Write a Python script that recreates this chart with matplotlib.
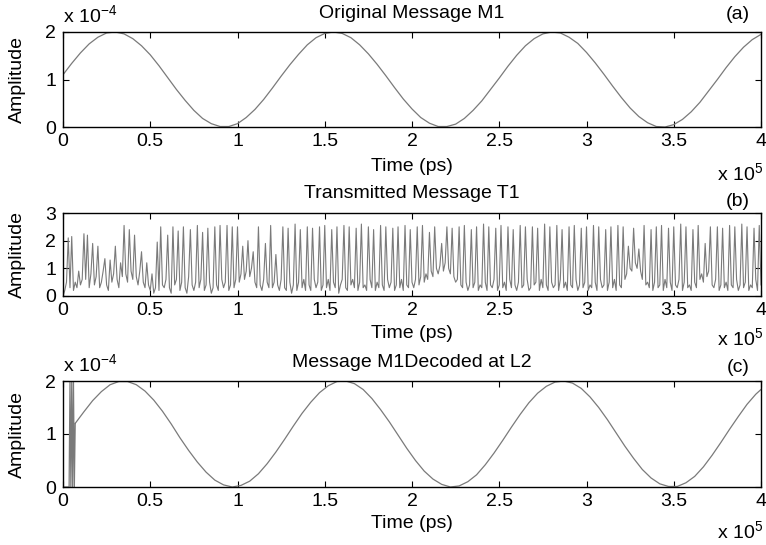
import numpy as np
import matplotlib
matplotlib.use("Agg")
import matplotlib.pyplot as plt

plt.rcParams['font.family'] = ['Liberation Sans', 'DejaVu Sans']
plt.rcParams['mathtext.fontset'] = 'custom'
plt.rcParams['mathtext.rm'] = 'Liberation Sans'
plt.rcParams['mathtext.default'] = 'regular'

# ---------------- data (time in units of 1e5 ps) ----------------
# (a) original message M1, amplitude in units of 1e-4, sampled every 0.05e5 ps
m1_time_step = 0.05
m1_amp = [1.10, 1.34, 1.56, 1.75, 1.89, 1.98, 2.00, 1.96, 1.86, 1.71,
          1.52, 1.29, 1.04, 0.79, 0.56, 0.35, 0.18, 0.07, 0.01, 0.01,
          0.07, 0.20, 0.37, 0.58, 0.82, 1.07, 1.31, 1.53, 1.73, 1.88,
          1.97, 2.00, 1.97, 1.88, 1.73, 1.54, 1.32, 1.08, 0.83, 0.59,
          0.38, 0.20, 0.08, 0.01, 0.01, 0.06, 0.18, 0.35, 0.55, 0.79,
          1.03, 1.28, 1.51, 1.71, 1.86, 1.96, 2.00, 1.98, 1.89, 1.76,
          1.57, 1.35, 1.11, 0.86, 0.62, 0.40, 0.22, 0.09, 0.01, 0.00,
          0.05, 0.16, 0.32, 0.52, 0.76, 1.00, 1.25, 1.48, 1.68, 1.84,
          1.95]

# (b) transmitted message T1, sampled every 0.01e5 ps
t1_time_step = 0.01
t1_amp = [
    0.0, 0.2, 0.5, 2.1, 0.3, 2.15, 0.2, 0.5, 0.3, 0.9, 0.4, 0.6, 2.25, 0.6, 2.2, 0.3, 0.8, 1.9, 0.4, 0.7,
    1.8, 0.3, 0.5, 0.9, 1.35, 0.4, 0.2, 1.3, 0.5, 0.8, 1.8, 0.6, 0.3, 1.2, 0.7, 2.55, 0.8, 0.5, 2.4, 0.9,
    0.6, 2.2, 0.7, 0.4, 0.9, 1.6, 0.5, 0.3, 1.2, 0.4, 0.2, 0.8, 0.1, 0.3, 1.95, 0.2, 2.5, 0.4, 0.3, 0.6,
    2.2, 0.3, 0.1, 2.5, 0.4, 0.6, 2.35, 0.2, 0.5, 2.5, 0.3, 0.1, 0.7, 2.4, 0.4, 0.2, 0.5, 2.55, 0.3, 0.6,
    2.3, 0.2, 0.4, 2.45, 0.5, 0.1, 0.3, 2.5, 0.4, 0.2, 2.55, 0.6, 0.3, 0.5, 2.55, 0.2, 0.4, 2.5, 0.3, 0.6,
    2.5, 0.5, 0.8, 1.8, 0.6, 0.9, 2.0, 0.7, 1.0, 1.6, 0.5, 0.3, 2.5, 0.4, 0.2, 0.6, 1.9, 0.5, 0.3, 2.55,
    0.3, 0.5, 1.5, 0.4, 0.2, 0.6, 2.5, 0.3, 0.2, 2.45, 0.5, 0.1, 0.4, 2.6, 0.2, 0.5, 2.4, 0.3, 0.6, 0.2,
    2.5, 0.4, 0.2, 2.45, 0.6, 0.3, 0.5, 2.5, 0.2, 0.4, 2.55, 0.3, 0.6, 0.2, 2.4, 0.5, 0.3, 2.5, 0.1, 0.4,
    0.6, 2.55, 0.3, 0.2, 2.5, 0.4, 0.6, 0.3, 2.45, 0.2, 0.5, 2.6, 0.3, 0.4, 0.2, 2.5, 0.6, 0.3, 2.4, 0.2,
    0.5, 0.3, 2.55, 0.4, 0.2, 2.5, 0.6, 0.3, 0.5, 2.45, 0.2, 0.4, 2.5, 0.3, 0.6, 0.2, 2.55, 0.4, 0.3, 2.4,
    0.5, 0.3, 0.6, 2.5, 0.4, 0.7, 2.55, 0.5, 0.8, 0.6, 2.3, 0.9, 0.7, 2.5, 1.0, 0.8, 1.1, 1.9, 0.9, 1.2,
    2.5, 1.0, 0.8, 2.45, 0.7, 0.5, 0.6, 2.5, 0.4, 0.3, 2.55, 0.5, 0.2, 0.4, 2.4, 0.3, 0.5, 2.5, 0.2, 0.4,
    0.3, 2.6, 0.5, 0.2, 2.5, 0.4, 0.3, 0.6, 2.45, 0.2, 0.4, 2.55, 0.3, 0.5, 0.2, 2.5, 0.6, 0.3, 2.4, 0.4,
    0.2, 0.5, 2.55, 0.3, 0.4, 2.5, 0.6, 0.2, 0.3, 2.5, 0.4, 0.5, 2.45, 0.2, 0.6, 0.3, 2.6, 0.4, 0.2, 2.5,
    0.5, 0.3, 0.4, 2.55, 0.2, 0.6, 2.4, 0.3, 0.5, 0.2, 2.5, 0.4, 0.3, 2.55, 0.6, 0.2, 0.4, 2.45, 0.3, 0.5,
    2.5, 0.2, 0.4, 0.3, 2.55, 0.5, 0.2, 2.5, 0.6, 0.3, 0.4, 2.4, 0.2, 0.5, 2.5, 0.3, 0.6, 0.2, 2.55, 0.4,
    0.3, 2.5, 0.6, 0.8, 1.8, 1.0, 0.9, 2.45, 1.2, 1.0, 1.7, 0.9, 0.6, 2.55, 0.4, 0.5, 0.3, 2.4, 0.2, 0.5,
    2.5, 0.3, 0.4, 2.55, 0.2, 0.6, 0.3, 2.45, 0.5, 0.2, 2.5, 0.4, 0.3, 0.6, 2.6, 0.2, 0.5, 2.5, 0.3, 0.4,
    0.2, 2.4, 0.5, 0.3, 2.55, 0.6, 0.8, 0.5, 1.9, 0.7, 0.9, 2.5, 0.4, 0.3, 0.6, 2.5, 0.2, 0.4, 2.45, 0.3,
    0.5, 0.2, 2.55, 0.4, 0.3, 2.5, 0.6, 0.2, 0.4, 2.6, 0.3, 0.5, 2.5, 0.2, 0.4, 0.3, 2.45, 0.6, 0.2, 2.55,
    0.4]

# (c) decoded message: initial burst, then recovered sine (units of 1e-4)
burst_time = [0.0, 0.035, 0.04, 0.045, 0.05, 0.055, 0.06, 0.065, 0.07]
burst_amp = [0.0, 0.0, 2.0, 0.0, 2.0, 0.0, 2.0, 0.0, 1.2]
dec_time_start = 0.07
dec_time_step = 0.05
dec_amp = [1.20, 1.42, 1.63, 1.80, 1.93, 1.99, 1.99, 1.93, 1.81, 1.64,
           1.43, 1.19, 0.93, 0.69, 0.47, 0.28, 0.13, 0.04, 0.00, 0.03,
           0.11, 0.25, 0.44, 0.66, 0.90, 1.15, 1.39, 1.60, 1.78, 1.91,
           1.99, 2.00, 1.95, 1.84, 1.67, 1.46, 1.23, 0.98, 0.73, 0.50,
           0.30, 0.15, 0.05, 0.00, 0.02, 0.10, 0.23, 0.42, 0.64, 0.88,
           1.13, 1.37, 1.59, 1.77, 1.90, 1.98, 2.00, 1.96, 1.86, 1.70,
           1.50, 1.27, 1.02, 0.77, 0.54, 0.33, 0.17, 0.06, 0.01, 0.01,
           0.08, 0.20, 0.38, 0.60, 0.84, 1.09, 1.33, 1.56, 1.75, 1.90]

xticks = [0, 0.5, 1, 1.5, 2, 2.5, 3, 3.5, 4]
xticklabels = ['0', '0.5', '1', '1.5', '2', '2.5', '3', '3.5', '4']
titles = ['Original Message M1', 'Transmitted Message T1', 'Message M1Decoded at L2']
tags = ['(a)', '(b)', '(c)']

# ---------------- figure ----------------
W, H = 766, 545
fig = plt.figure(figsize=(W / 100, H / 100), dpi=100)
fig.patch.set_facecolor('white')

# (top px, bottom px) of each axes
boxes = [(32, 127), (213, 296), (381, 487)]
left_px, right_px = 63, 761
FS = 14
line_col = '#7a7a7a'


def px2pt(v):
    return v * 72.0 / 100.0


axes = []
for (top, bot) in boxes:
    ax = fig.add_axes([left_px / W, (H - bot) / H, (right_px - left_px) / W, (bot - top) / H])
    axes.append(ax)

m1_t = np.arange(len(m1_amp)) * m1_time_step
t1_t = np.arange(len(t1_amp)) * t1_time_step
dec_t = dec_time_start + np.arange(len(dec_amp)) * dec_time_step

axes[0].plot(m1_t, m1_amp, color=line_col, lw=0.9)
axes[1].plot(t1_t, t1_amp, color=line_col, lw=0.8)
axes[2].plot(burst_time, burst_amp, color=line_col, lw=0.9)
axes[2].plot(dec_t, dec_amp, color=line_col, lw=0.9)

ylims = [(0, 2), (0, 3), (0, 2)]
yticks = [[0, 1, 2], [0, 1, 2, 3], [0, 1, 2]]
title_pad = [14, 15, 14]
tag_off = [13, 7, 9]
xlab_off = [31, 29, 28]
x10_off = [53, 49, 51]

for i, ax in enumerate(axes):
    top, bot = boxes[i]
    hpx = bot - top
    ax.set_xlim(0, 4)
    ax.set_ylim(*ylims[i])
    ax.set_xticks(xticks)
    ax.set_xticklabels(xticklabels)
    ax.set_yticks(yticks[i])
    ax.set_yticklabels([str(v) for v in yticks[i]])
    ax.tick_params(axis='both', direction='in', length=4, width=0.8,
                   top=True, right=True, labelsize=FS, colors='black')
    ax.tick_params(axis='x', pad=4)
    ax.tick_params(axis='y', pad=5)
    for s in ax.spines.values():
        s.set_linewidth(1.0)
        s.set_color('black')
    ax.set_title(titles[i], fontsize=FS, pad=px2pt(title_pad[i]))
    ax.annotate(tags[i], xy=(0.967, 1.0), xycoords='axes fraction',
                xytext=(0, px2pt(tag_off[i])), textcoords='offset points',
                ha='center', va='baseline', fontsize=FS)
    ax.set_xlabel('Time (ps)', fontsize=FS)
    ax.xaxis.set_label_coords(0.5, -xlab_off[i] / hpx)
    ax.set_ylabel('Amplitude', fontsize=FS)
    ax.yaxis.set_label_coords((26 - left_px) / (right_px - left_px), 0.5)
    ax.annotate(r'x 10$^{5}$', xy=(1.0, 0.0), xycoords='axes fraction',
                xytext=(px2pt(2), -px2pt(x10_off[i])), textcoords='offset points',
                ha='right', va='baseline', fontsize=FS)
    if i != 1:
        ax.annotate(r'x 10$^{-4}$', xy=(0.0, 1.0), xycoords='axes fraction',
                    xytext=(0, px2pt(10)), textcoords='offset points',
                    ha='left', va='baseline', fontsize=FS)

fig.savefig('out.png', dpi=100, facecolor='white')
